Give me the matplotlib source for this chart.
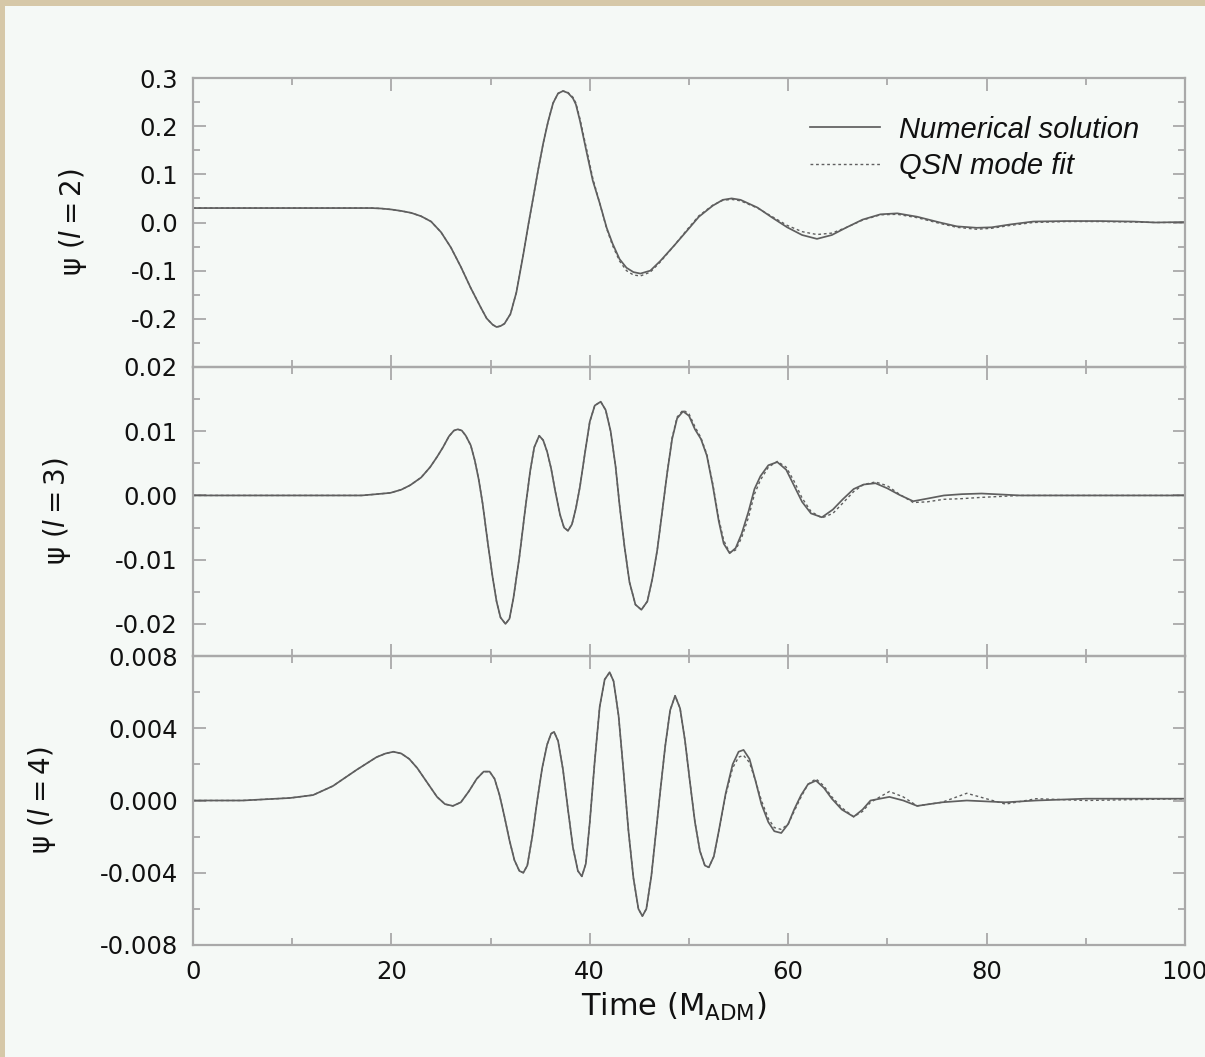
import matplotlib
matplotlib.use("Agg")
import matplotlib.pyplot as plt
from matplotlib.patches import Rectangle
from matplotlib.ticker import FixedLocator, MultipleLocator, NullFormatter

plt.rcParams['font.family'] = ['DejaVu Sans']
plt.rcParams['mathtext.fontset'] = 'dejavusans'

# ---------------- data ----------------
t_l2 = [0, 10, 16, 18, 19, 20, 21, 22, 23, 24,
        25, 26, 27, 28, 29, 29.6, 30.2, 30.6, 31.0, 31.4,
        32.0, 32.6, 33.3, 33.8, 34.3, 34.8, 35.3, 35.8, 36.3, 36.8,
        37.3, 37.8, 38.3, 38.6, 39.0, 39.7, 40.3, 41.0, 41.7, 42.3,
        43.0, 43.7, 44.4, 45.1, 46.1, 47.1, 48.5, 49.8, 51.0, 52.4,
        53.4, 54.3, 55.2, 56.9, 58.4, 59.9, 61.4, 62.9, 64.4, 65.9,
        67.5, 69.3, 71.0, 73.0, 75.3, 77.0, 79.0, 80.5, 82.4, 84.7,
        88, 91.4, 94.8, 97, 100]
num_l2 = [0.030, 0.030, 0.030, 0.030, 0.029, 0.027, 0.024, 0.020, 0.013, 0.002,
          -0.020, -0.052, -0.092, -0.136, -0.176, -0.199, -0.212, -0.217, -0.215, -0.210,
          -0.190, -0.145, -0.066, -0.005, 0.052, 0.110, 0.164, 0.210, 0.248, 0.268,
          0.273, 0.269, 0.258, 0.245, 0.212, 0.144, 0.087, 0.040, -0.011, -0.044,
          -0.076, -0.094, -0.103, -0.106, -0.100, -0.080, -0.048, -0.017, 0.012, 0.035,
          0.047, 0.050, 0.047, 0.031, 0.010, -0.010, -0.026, -0.034, -0.026, -0.010,
          0.006, 0.017, 0.019, 0.012, 0.000, -0.008, -0.011, -0.010, -0.004, 0.002,
          0.003, 0.003, 0.002, 0.000, 0.001]
fit_l2 = num_l2[:31] + [
          0.270, 0.260, 0.248, 0.216, 0.150, 0.092, 0.040, -0.013, -0.048,
          -0.080, -0.100, -0.109, -0.111, -0.103, -0.082, -0.048, -0.015, 0.014, 0.036,
          0.046, 0.048, 0.045, 0.030, 0.012, -0.006, -0.019, -0.025, -0.022, -0.010,
          0.005, 0.016, 0.017, 0.010, -0.002, -0.010, -0.014, -0.012, -0.006, 0.000,
          0.002, 0.002, 0.001, 0.000, 0.000]

t_l3 = [0, 10, 15, 17, 18.5, 19.9, 21.0, 21.9, 23.0, 23.9,
        24.6, 25.2, 25.8, 26.3, 26.7, 27.1, 27.5, 28.0, 28.4, 28.8,
        29.2, 29.7, 30.2, 30.6, 31.0, 31.5, 31.9, 32.3, 32.9, 33.5,
        34.0, 34.4, 34.9, 35.3, 35.7, 36.1, 36.5, 37.0, 37.4, 37.8,
        38.2, 38.6, 39.0, 39.5, 40.0, 40.5, 41.1, 41.6, 42.1, 42.6,
        43.0, 43.5, 44.0, 44.6, 45.2, 45.8, 46.3, 46.8, 47.3, 47.8,
        48.3, 48.8, 49.4, 50.0, 50.6, 51.2, 51.8, 52.4, 53.0, 53.5,
        54.1, 54.7, 55.3, 56.0, 56.6, 57.2, 58.0, 58.9, 59.8, 60.6,
        61.4, 62.3, 63.4, 64.5, 65.5, 66.6, 67.6, 68.8, 70.0, 71.2,
        72.6, 74.0, 75.7, 77.5, 79.5, 83.4, 90, 100]
num_l3 = [0.0, 0.0, 0.0, 0.0, 0.0002, 0.0004, 0.0009, 0.0016, 0.0028, 0.0044,
          0.0060, 0.0075, 0.0092, 0.0101, 0.0103, 0.0101, 0.0093, 0.0078, 0.0055, 0.0025,
          -0.0013, -0.0072, -0.0127, -0.0165, -0.0190, -0.0200, -0.0192, -0.0160, -0.0096, -0.0020,
          0.0039, 0.0075, 0.0093, 0.0086, 0.0068, 0.0042, 0.0008, -0.0030, -0.0050, -0.0055,
          -0.0045, -0.0020, 0.0013, 0.0065, 0.0115, 0.0140, 0.0146, 0.0133, 0.0100, 0.0045,
          -0.0015, -0.0080, -0.0135, -0.0170, -0.0178, -0.0165, -0.0130, -0.0085, -0.0025, 0.0035,
          0.0088, 0.0120, 0.0131, 0.0124, 0.0103, 0.0088, 0.0062, 0.0015, -0.0040, -0.0075,
          -0.0090, -0.0082, -0.0060, -0.0025, 0.0010, 0.0030, 0.0047, 0.0052, 0.0040, 0.0015,
          -0.0010, -0.0028, -0.0034, -0.0022, -0.0006, 0.0010, 0.0017, 0.0019, 0.0011, 0.0001,
          -0.0009, -0.0005, 0.0000, 0.0002, 0.0003, 0.0000, 0.0000, 0.0000]
fit_l3 = num_l3[:60] + [
          0.0090, 0.0122, 0.0133, 0.0127, 0.0107, 0.0090, 0.0064, 0.0018, -0.0036, -0.0070,
          -0.0089, -0.0085, -0.0066, -0.0034, 0.0002, 0.0024, 0.0044, 0.0053, 0.0044, 0.0022,
          -0.0004, -0.0025, -0.0035, -0.0028, -0.0012, 0.0006, 0.0017, 0.0021, 0.0015, 0.0002,
          -0.0011, -0.0010, -0.0006, -0.0005, -0.0003, 0.0000, 0.0000, 0.0000]

t_l4 = [0, 5, 9.8, 12.1, 14.1, 16.5, 18.5, 19.4, 20.2, 21.0,
        21.8, 22.6, 23.6, 24.6, 25.4, 26.2, 27.0, 27.8, 28.6, 29.3,
        29.9, 30.4, 30.9, 31.4, 31.9, 32.4, 32.9, 33.3, 33.7, 34.2,
        34.7, 35.2, 35.7, 36.1, 36.4, 36.8, 37.3, 37.8, 38.3, 38.8,
        39.2, 39.6, 40.0, 40.5, 41.0, 41.5, 42.0, 42.4, 42.9, 43.4,
        43.9, 44.4, 44.9, 45.3, 45.7, 46.2, 46.7, 47.1, 47.6, 48.1,
        48.6, 49.1, 49.6, 50.1, 50.6, 51.1, 51.6, 52.0, 52.5, 53.0,
        53.7, 54.4, 55.0, 55.5, 56.1, 56.7, 57.3, 58.0, 58.6, 59.3,
        60.0, 60.6, 61.3, 62.0, 62.8, 63.6, 64.4, 65.4, 66.6, 67.5,
        68.3, 70.2, 71.6, 73.0, 75.5, 78.0, 81.9, 85, 90, 100]
num_l4 = [0.0, 0.0, 0.00014, 0.0003, 0.0008, 0.0017, 0.0024, 0.0026, 0.0027, 0.0026,
          0.0023, 0.0018, 0.0010, 0.0002, -0.0002, -0.0003, -0.0001, 0.0005, 0.0012, 0.0016,
          0.0016, 0.0012, 0.0003, -0.0009, -0.0022, -0.0033, -0.0039, -0.0040, -0.0036, -0.0020,
          0.0000, 0.0018, 0.0031, 0.0037, 0.0038, 0.0033, 0.0017, -0.0005, -0.0026, -0.0039,
          -0.0042, -0.0035, -0.0012, 0.0022, 0.0052, 0.0067, 0.0071, 0.0066, 0.0047, 0.0016,
          -0.0017, -0.0043, -0.0060, -0.0064, -0.0060, -0.0042, -0.0016, 0.0005, 0.0030, 0.0050,
          0.0058, 0.0051, 0.0033, 0.0010, -0.0012, -0.0028, -0.0036, -0.0037, -0.0031, -0.0017,
          0.0004, 0.0020, 0.0027, 0.0028, 0.0023, 0.0011, -0.0002, -0.0012, -0.0017, -0.0018,
          -0.0013, -0.0005, 0.0003, 0.0009, 0.0011, 0.0007, 0.0001, -0.0005, -0.0009, -0.0005,
          0.0000, 0.0002, 0.0000, -0.0003, -0.0001, 0.0000, -0.0001, 0.0000, 0.0001, 0.0001]
fit_l4 = num_l4[:70] + [
          0.0003, 0.0018, 0.0024, 0.0025, 0.0021, 0.0011, 0.0000, -0.0010, -0.0015, -0.0016,
          -0.0013, -0.0006, 0.0002, 0.0009, 0.0012, 0.0008, 0.0002, -0.0004, -0.0009, -0.0006,
          -0.0001, 0.0005, 0.0002, -0.0003, -0.0001, 0.0004, -0.0002, 0.0001, 0.0000, 0.0001]

yticks_l2 = [-0.2, -0.1, 0.0, 0.1, 0.2, 0.3]
ylabels_l2 = ["-0.2", "-0.1", "0.0", "0.1", "0.2", "0.3"]
yticks_l3 = [-0.02, -0.01, 0.0, 0.01, 0.02]
ylabels_l3 = ["-0.02", "-0.01", "0.00", "0.01", "0.02"]
yticks_l4 = [-0.008, -0.004, 0.0, 0.004, 0.008]
ylabels_l4 = ["-0.008", "-0.004", "0.000", "0.004", "0.008"]
xticks = [0, 20, 40, 60, 80, 100]
xlabels = ["0", "20", "40", "60", "80", "100"]

series_labels = ["Numerical solution", "QSN mode fit"]
ylab = [r"ψ $\mathit{(l{=}2)}$", r"ψ $\mathit{(l{=}3)}$", r"ψ $\mathit{(l{=}4)}$"]

# ---------------- figure ----------------
W, H = 1205, 1057
fig = plt.figure(figsize=(W / 100, H / 100), dpi=100)
fig.patch.set_facecolor("#d6c8a8")
bg = Rectangle((5 / W, 0), 1, 1 - 6 / H, transform=fig.transFigure,
               facecolor="#f5f9f6", edgecolor="none", zorder=-10)
fig.add_artist(bg)

left, right = 193 / W, 1185 / W
panels = [(78, 367), (367, 656), (656, 945)]
axes = []
for (top, bot) in panels:
    ax = fig.add_axes([left, 1 - bot / H, right - left, (bot - top) / H])
    ax.set_facecolor("none")
    ax.set_zorder(1)
    axes.append(ax)

line_c = "#5f5f5f"
spine_c = "#a9a9a9"
text_c = "#111111"
configs = [
    (t_l2, num_l2, fit_l2, (-0.3, 0.3), yticks_l2, ylabels_l2, 0.05),
    (t_l3, num_l3, fit_l3, (-0.025, 0.02), yticks_l3, ylabels_l3, 0.005),
    (t_l4, num_l4, fit_l4, (-0.008, 0.008), yticks_l4, ylabels_l4, 0.002),
]
for i, (ax, cfg) in enumerate(zip(axes, configs)):
    t, yn, yf, ylim, yt, yl, ymin = cfg
    ax.plot(t, yn, color=line_c, lw=1.25, solid_joinstyle="round", label=series_labels[0])
    ax.plot(t, yf, color=line_c, lw=1.0, linestyle=(0, (2.0, 2.0)), label=series_labels[1])
    ax.set_xlim(0, 100)
    ax.set_ylim(*ylim)
    ax.yaxis.set_major_locator(FixedLocator(yt))
    ax.set_yticklabels(yl)
    ax.yaxis.set_minor_locator(MultipleLocator(ymin))
    ax.xaxis.set_major_locator(FixedLocator(xticks))
    ax.xaxis.set_minor_locator(MultipleLocator(10))
    if i == 2:
        ax.set_xticklabels(xlabels)
    else:
        ax.xaxis.set_major_formatter(NullFormatter())
    ax.tick_params(which="both", direction="in", top=True, right=True, color=spine_c,
                   width=1.3, labelsize=17.5, labelcolor=text_c)
    ax.tick_params(which="major", length=9, pad=11)
    ax.tick_params(which="minor", length=5)
    for s in ax.spines.values():
        s.set_color(spine_c)
        s.set_linewidth(1.6)
    ax.set_ylabel(ylab[i], fontsize=20, color=text_c, labelpad=30)

axes[2].set_xlabel(r"Time (M$_{\mathrm{ADM}}$)", fontsize=22, color=text_c, labelpad=5)
axes[2].xaxis.label.set_x(0.485)

leg = axes[0].legend(loc="upper left", bbox_to_anchor=(0.622, 0.87), frameon=False,
                     prop={"family": "Liberation Sans", "style": "italic", "size": 21},
                     handlelength=2.4, handletextpad=0.65, labelspacing=0.28,
                     borderpad=0, borderaxespad=0)
for txt in leg.get_texts():
    txt.set_color(text_c)

fig.savefig("out.png", dpi=100, facecolor=fig.get_facecolor())
